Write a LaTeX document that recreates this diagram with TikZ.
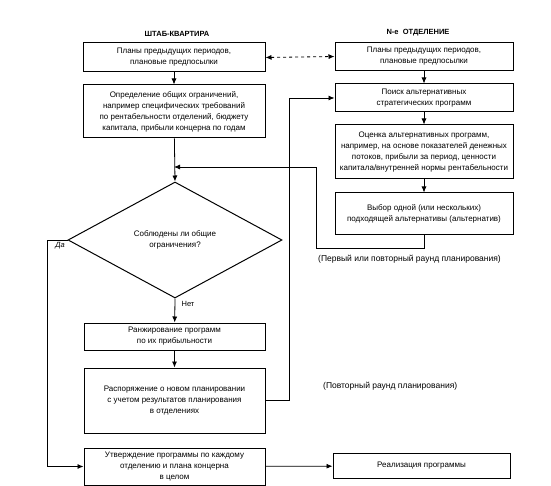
\documentclass[tikz,border=0pt]{standalone}
\usepackage{fontspec}
\setmainfont{Liberation Sans}
\usetikzlibrary{arrows.meta}
\usetikzlibrary{shapes.geometric}
\tikzset{>=latex}
\tikzstyle{planbox}=[draw,line width=1pt,align=center,inner sep=1pt,font=\fontsize{8}{11}\selectfont]
\tikzstyle{planline}=[draw,line width=0.8pt,-{Latex[length=6pt,width=5pt]}]
\tikzstyle{headline}=[font=\fontsize{7.5}{9}\selectfont\bfseries]
\tikzstyle{roundnote}=[anchor=west,inner sep=0pt,font=\fontsize{8.5}{10}\selectfont]

\begin{document}
\begin{tikzpicture}[x=1pt,y=-1pt]
  \useasboundingbox (0,0) rectangle (551,486);

  \node[headline] (hqtitle)  at (177,34) {ШТАБ-КВАРТИРА};
  \node[headline] (divtitle) at (418,33) {N-е\ \ ОТДЕЛЕНИЕ};

  % штаб-квартира
  \node[planbox,minimum width=182pt,minimum height=29pt] (hqplans) at (174,57.5)
    {Планы предыдущих периодов,\\ плановые предпосылки};
  \node[planbox,minimum width=182pt,minimum height=53pt] (limits) at (174,111.5)
    {Определение общих ограничений,\\ например специфических требований\\ по рентабельности отделений, бюджету\\ капитала, прибыли концерна по годам};
  \node[draw,line width=1pt,shape=diamond,minimum width=214pt,minimum height=116pt,
        inner sep=0pt,align=center,font=\fontsize{8}{11}\selectfont] (check) at (175,240)
    {Соблюдены ли общие\\ ограничения?};
  \node[planbox,minimum width=181pt,minimum height=27pt] (ranking) at (174.5,336.5)
    {Ранжирование программ\\ по их прибыльности};
  \node[planbox,minimum width=181pt,minimum height=65pt] (replan) at (174.5,400.5)
    {Распоряжение о новом планировании\\ с учетом результатов планирования\\ в отделениях};
  \node[planbox,minimum width=181pt,minimum height=37pt] (approve) at (174.5,466.5)
    {Утверждение программы по каждому\\ отделению и плана концерна\\ в целом};

  % отделение
  \node[planbox,minimum width=178pt,minimum height=28pt] (divplans) at (424,56.5)
    {Планы предыдущих периодов,\\ плановые предпосылки};
  \node[planbox,minimum width=178pt,minimum height=28pt] (search) at (424,98)
    {Поиск альтернативных\\ стратегических программ};
  \node[planbox,minimum width=178pt,minimum height=54pt] (assess) at (424,152)
    {Оценка альтернативных программ,\\ например, на основе показателей денежных\\ потоков, прибыли за период, ценности\\ капитала/внутренней нормы рентабельности};
  \node[planbox,minimum width=178pt,minimum height=42pt] (choice) at (424,214)
    {Выбор одной (или нескольких)\\ подходящей альтернативы (альтернатив)};
  \node[planbox,minimum width=177pt,minimum height=25pt] (realize) at (421.5,466)
    {Реализация программы};

  \coordinate (merge) at (174,167);
  \coordinate (loopturn) at (316,248);

  \draw[planline,dashed,{Latex[length=6pt,width=5pt]}-{Latex[length=6pt,width=5pt]}]
    (hqplans.east) -- (divplans.west);
  \draw[planline] (hqplans) -- (limits);
  \draw[planline] (limits) -- (check.north);
  \draw[planline] (divplans) -- (search);
  \draw[planline] (search) -- (assess);
  \draw[planline] (assess) -- (choice);
  \draw[planline] (choice.south) |- (loopturn) |- (merge);
  \draw[planline] (check.south) -- (ranking);
  \draw[planline] (ranking) -- (replan);
  \draw[planline] (replan.east) -- ++(24,0) |- (search.west);
  \draw[planline] (check.west) -- ++(-20,0) |- (approve.west);
  \draw[planline] (approve) -- (realize);

  \node[font=\fontsize{7.5}{9}\selectfont\itshape] (yes) at (60,246) {Да};
  \node[font=\fontsize{7.5}{9}\selectfont] (no) at (188,304) {Нет};
  \node[roundnote] (firstround) at (318,259) {(Первый или повторный раунд планирования)};
  \node[roundnote] (nextround) at (323,386) {(Повторный раунд планирования)};
\end{tikzpicture}
\end{document}
